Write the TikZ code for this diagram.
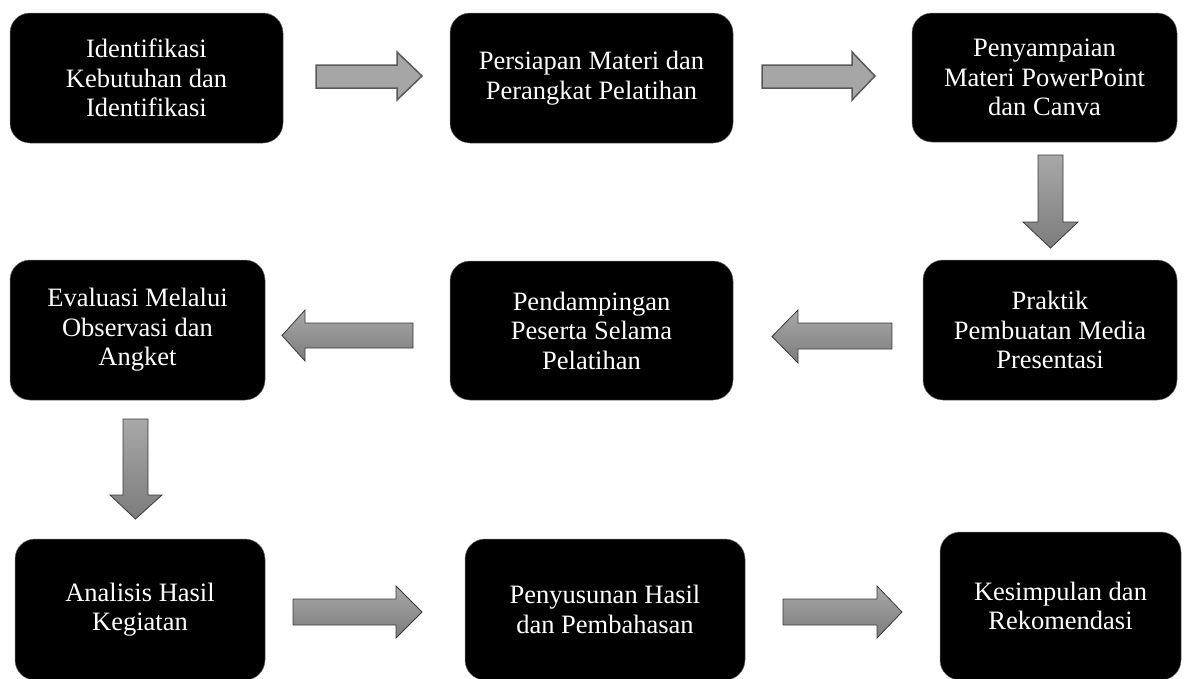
\documentclass[tikz,border=0pt]{standalone}
\usepackage{fontspec}
\setmainfont{Liberation Serif}
\definecolor{arrflat}{HTML}{A6A6A6}
\definecolor{arrline}{HTML}{595959}
\definecolor{arrtop}{HTML}{A8A8A8}
\definecolor{arrbot}{HTML}{7C7C7C}
\definecolor{arrline2}{HTML}{3A3A3A}
\definecolor{boxline}{HTML}{6E6E6E}
\tikzset{
  stepbox/.style={draw=boxline, line width=0.5pt, fill=black, rounded corners=20pt,
    text=white, align=center, inner sep=0pt, outer sep=0pt,
    font=\fontsize{26.5}{29.5}\selectfont},
  flatarrow/.style={fill=arrflat, draw=arrline, line width=1.5pt, line join=miter},
  shadearrow/.style={top color=arrtop, bottom color=arrbot, draw=arrline2, line width=0.8pt, line join=miter}
}
\begin{document}
\begin{tikzpicture}[x=1pt,y=-1pt]
\useasboundingbox (0,0) rectangle (1184,678);
\clip (0,0) rectangle (1184,678);
% boxes
\node[stepbox, minimum width=273pt, minimum height=130pt] (b1) at (146.5,78) {Identifikasi\\Kebutuhan dan\\Identifikasi};
\node[stepbox, minimum width=283pt, minimum height=130pt] (b2) at (591.5,78) {Persiapan Materi dan\\Perangkat Pelatihan};
\node[stepbox, minimum width=265pt, minimum height=129pt] (b3) at (1044.5,77.5) {Penyampaian\\Materi PowerPoint\\dan Canva};
\node[stepbox, minimum width=255pt, minimum height=140pt] (b4) at (137.5,330) {Evaluasi Melalui\\Observasi dan\\Angket};
\node[stepbox, minimum width=283pt, minimum height=139pt] (b5) at (591.5,330.5) {Pendampingan\\Peserta Selama\\Pelatihan};
\node[stepbox, minimum width=254pt, minimum height=140pt] (b6) at (1050,330) {Praktik\\Pembuatan Media\\Presentasi};
\node[stepbox, minimum width=250pt, minimum height=141pt] (b7) at (140,609.5) {Analisis Hasil\\Kegiatan};
\node[stepbox, minimum width=280pt, minimum height=141pt] (b8) at (605,609.5) {Penyusunan Hasil\\dan Pembahasan};
\node[stepbox, minimum width=241pt, minimum height=148pt] (b9) at (1060.5,606) {Kesimpulan dan\\Rekomendasi};
% block arrows
\draw[flatarrow] (316,65) -- (397,65) -- (397,52) -- (422,76) -- (397,100) -- (397,88) -- (316,88) -- cycle;
\draw[flatarrow] (762,65) -- (852,65) -- (852,52) -- (875,76) -- (852,100) -- (852,88) -- (762,88) -- cycle;
\draw[shadearrow] (1038,155) -- (1063,155) -- (1063,222) -- (1078,222) -- (1050.5,248) -- (1023,222) -- (1038,222) -- cycle;
\draw[shadearrow] (892,323) -- (798,323) -- (798,310) -- (772,336.5) -- (798,363) -- (798,349) -- (892,349) -- cycle;
\draw[shadearrow] (413,323) -- (305,323) -- (305,310) -- (282,335.5) -- (305,361) -- (305,348) -- (413,348) -- cycle;
\draw[shadearrow] (123,419) -- (148,419) -- (148,495) -- (162,495) -- (135.5,519) -- (110,495) -- (123,495) -- cycle;
\draw[shadearrow] (293,599) -- (396,599) -- (396,586) -- (422,612) -- (396,638) -- (396,625) -- (293,625) -- cycle;
\draw[shadearrow] (783,599) -- (877,599) -- (877,586) -- (902,612) -- (877,638) -- (877,625) -- (783,625) -- cycle;
\end{tikzpicture}
\end{document}
